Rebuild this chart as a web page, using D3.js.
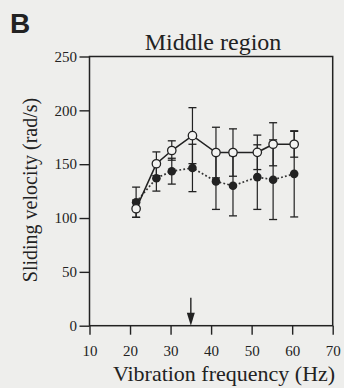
<!DOCTYPE html>
<html>
<head>
<meta charset="utf-8">
<script src="https://cdn.jsdelivr.net/npm/d3@7"></script>
<style>
  body { margin: 0; background: #eeeeec; }
  text { font-family: "Liberation Serif", "Times New Roman", serif; fill: #222; }
</style>
</head>
<body>
<div id="myChart"></div>
<script>
// data
let freqs = [21.5, 26.5, 30.3, 35.4, 41.2, 45.4, 51.4, 55.3, 60.5];
let openVals = [108.6, 150.4, 162.7, 176.5, 160.8, 160.8, 161, 168.5, 168.5];
let openErr = [8, 11, 9, 26, 23.5, 22, 16, 20, 12];
let filledVals = [114.7, 137, 143.5, 146.5, 134, 130, 138, 135.6, 141];
let filledErr = [14, 12, 12, 22, 26, 28, 30, 37, 40];
let xTicks = [10, 20, 30, 40, 50, 60, 70];
let yTicks = [0, 50, 100, 150, 200, 250];
let arrowFreq = 35;

let margin = { top: 56.5, right: 11.3, bottom: 62.3, left: 89.5 },
    width = 344 - margin.left - margin.right,
    height = 388 - margin.top - margin.bottom;

let root = d3.select("#myChart").append("svg")
  .attr("width", 344)
  .attr("height", 388);

let svg = root.append("g")
  .attr("transform", "translate(" + margin.left + "," + margin.top + ")");

let x = d3.scaleLinear().domain([10, 70]).range([0, width]);
let y = d3.scaleLinear().domain([0, 250]).range([height, 0]);

// panel letter
root.append("text")
  .attr("x", 10).attr("y", 33)
  .style("font-family", "'Liberation Sans', Arial, sans-serif")
  .style("font-weight", "bold")
  .style("font-size", "28px")
  .text("B");

// title
root.append("text")
  .attr("x", 213).attr("y", 50)
  .attr("text-anchor", "middle")
  .style("font-size", "24px")
  .text("Middle region");

// axes
let xAxis = svg.append("g")
  .attr("transform", "translate(0," + height + ")")
  .call(d3.axisBottom(x).tickValues(xTicks).tickSize(9).tickPadding(10.5).tickSizeOuter(0));
let yAxis = svg.append("g")
  .call(d3.axisLeft(y).tickValues(yTicks).tickSize(10).tickPadding(2.5).tickSizeOuter(0));

[xAxis, yAxis].forEach(a => {
  a.select(".domain").remove();
  a.selectAll("line").attr("stroke", "#222").attr("stroke-width", 1.4);
  a.selectAll("text").style("font-size", "15px").style("font-family", "'Liberation Serif', serif").attr("fill", "#333");
});

// frame
svg.append("rect")
  .attr("x", 0).attr("y", 0)
  .attr("width", width).attr("height", height)
  .attr("fill", "none")
  .attr("stroke", "#222")
  .attr("stroke-width", 1.5);

// axis labels
root.append("text")
  .attr("x", 224).attr("y", 381)
  .attr("text-anchor", "middle")
  .style("font-size", "22px")
  .text("Vibration frequency (Hz)");

root.append("text")
  .attr("transform", "translate(37,190) rotate(-90)")
  .attr("text-anchor", "middle")
  .style("font-size", "20px")
  .text("Sliding velocity (rad/s)");

// error bars
function errorBars(vals, errs, cls) {
  let g = svg.append("g").attr("class", cls);
  let d = vals.map((v, i) => ({ f: freqs[i], v: v, e: errs[i] }));
  g.selectAll(".stem").data(d).enter().append("line")
    .attr("x1", p => x(p.f)).attr("x2", p => x(p.f))
    .attr("y1", p => y(p.v - p.e)).attr("y2", p => y(p.v + p.e))
    .attr("stroke", "#222").attr("stroke-width", 1.2);
  ["lo", "hi"].forEach(side => {
    g.selectAll(".cap" + side).data(d).enter().append("line")
      .attr("x1", p => x(p.f) - 4).attr("x2", p => x(p.f) + 4)
      .attr("y1", p => y(side == "lo" ? p.v - p.e : p.v + p.e))
      .attr("y2", p => y(side == "lo" ? p.v - p.e : p.v + p.e))
      .attr("stroke", "#222").attr("stroke-width", 1.3);
  });
}
errorBars(filledVals, filledErr, "filled-err");
errorBars(openVals, openErr, "open-err");

// lines
let line = d3.line().x((d, i) => x(freqs[i])).y(d => y(d));

svg.append("path")
  .datum(filledVals)
  .attr("d", line)
  .attr("fill", "none")
  .attr("stroke", "#333")
  .attr("stroke-width", 1.7)
  .attr("stroke-dasharray", "1.8,2.2");

svg.append("path")
  .datum(openVals)
  .attr("d", line)
  .attr("fill", "none")
  .attr("stroke", "#222")
  .attr("stroke-width", 1.6);

// markers
svg.selectAll(".dot-filled")
  .data(filledVals)
  .enter()
  .append("circle")
  .attr("cx", (d, i) => x(freqs[i]))
  .attr("cy", d => y(d))
  .attr("r", 4.3)
  .attr("fill", "#222");

svg.selectAll(".dot-open")
  .data(openVals)
  .enter()
  .append("circle")
  .attr("cx", (d, i) => x(freqs[i]))
  .attr("cy", d => y(d))
  .attr("r", 4.2)
  .attr("fill", "#f4f4f2")
  .attr("stroke", "#222")
  .attr("stroke-width", 1.3);

// arrow at the optimal frequency
svg.append("line")
  .attr("x1", x(arrowFreq)).attr("x2", x(arrowFreq))
  .attr("y1", height - 28).attr("y2", height - 12)
  .attr("stroke", "#222").attr("stroke-width", 1.4);
svg.append("path")
  .attr("d", "M" + (x(arrowFreq) - 4) + "," + (height - 13) +
             "L" + (x(arrowFreq) + 4) + "," + (height - 13) +
             "L" + x(arrowFreq) + "," + height + "Z")
  .attr("fill", "#222");
</script>
</body>
</html>
